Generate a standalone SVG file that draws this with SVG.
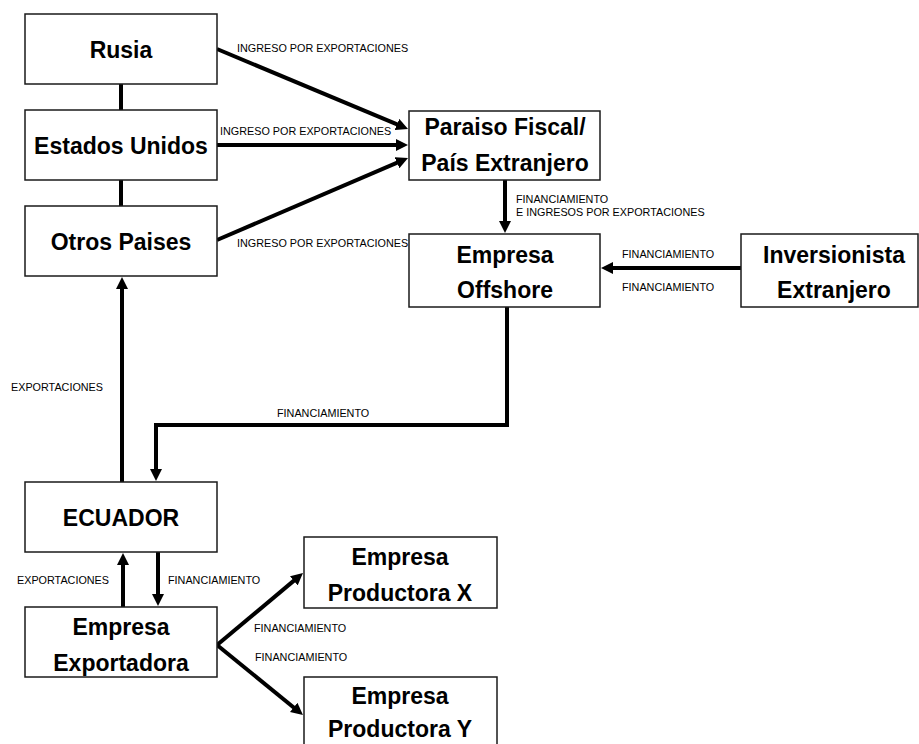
<svg xmlns="http://www.w3.org/2000/svg" width="919" height="744" viewBox="0 0 919 744">
  <style>
    .box { fill: #ffffff; stroke: #1a1a1a; stroke-width: 1.5; }
    .name { font-family: "Liberation Sans", Arial, sans-serif; font-weight: bold; font-size: 23px; fill: #000; text-anchor: middle; }
    .lbl { font-family: "Liberation Sans", Arial, sans-serif; font-size: 10.8px; fill: #000; }
    .wire { fill: none; stroke: #000; stroke-width: 4; }
    .arrow { marker-end: url(#head); }
  </style>
  <defs>
    <marker id="head" viewBox="0 0 10 10" refX="5" refY="5" markerWidth="12" markerHeight="12" markerUnits="userSpaceOnUse" orient="auto">
      <path d="M0,0 L10,5 L0,10 z" fill="#000"/>
    </marker>
  </defs>
  <rect width="919" height="744" fill="#ffffff"/>

  <g id="connectors">
    <line class="wire" x1="121" y1="84" x2="121" y2="110"/>
    <line class="wire" x1="121" y1="180" x2="121" y2="206"/>
    <line class="wire arrow" x1="217" y1="49" x2="402.5" y2="126.7"/>
    <line class="wire arrow" x1="217" y1="145" x2="402" y2="145"/>
    <line class="wire arrow" x1="217" y1="240" x2="402.5" y2="160.4"/>
    <line class="wire arrow" x1="505" y1="180" x2="505" y2="227"/>
    <line class="wire arrow" x1="741" y1="268" x2="607" y2="268"/>
    <polyline class="wire arrow" points="507,307 507,425 156,425 156,475"/>
    <line class="wire arrow" x1="122" y1="482" x2="122" y2="283"/>
    <line class="wire arrow" x1="123" y1="607" x2="123" y2="559"/>
    <line class="wire arrow" x1="158" y1="552" x2="158" y2="600"/>
    <line class="wire arrow" x1="217" y1="645" x2="298.4" y2="576.9"/>
    <line class="wire arrow" x1="217" y1="645" x2="298.3" y2="711.2"/>

    <text class="lbl" x="237" y="52">INGRESO POR EXPORTACIONES</text>
    <text class="lbl" x="220" y="135">INGRESO POR EXPORTACIONES</text>
    <text class="lbl" x="237" y="247">INGRESO POR EXPORTACIONES</text>
    <text class="lbl" x="516" y="203">FINANCIAMIENTO</text>
    <text class="lbl" x="516" y="216">E INGRESOS POR EXPORTACIONES</text>
    <text class="lbl" x="622" y="258">FINANCIAMIENTO</text>
    <text class="lbl" x="622" y="291">FINANCIAMIENTO</text>
    <text class="lbl" x="11" y="391">EXPORTACIONES</text>
    <text class="lbl" x="277" y="417">FINANCIAMIENTO</text>
    <text class="lbl" x="17" y="584">EXPORTACIONES</text>
    <text class="lbl" x="168" y="584">FINANCIAMIENTO</text>
    <text class="lbl" x="254" y="632">FINANCIAMIENTO</text>
    <text class="lbl" x="255" y="661">FINANCIAMIENTO</text>
  </g>

  <g id="rusia">
    <rect class="box" x="25" y="14" width="192" height="70"/>
    <text class="name" x="121" y="58">Rusia</text>
  </g>
  <g id="estados-unidos">
    <rect class="box" x="25" y="110" width="192" height="70"/>
    <text class="name" x="121" y="154">Estados Unidos</text>
  </g>
  <g id="otros-paises">
    <rect class="box" x="25" y="206" width="192" height="70"/>
    <text class="name" x="121" y="250">Otros Paises</text>
  </g>
  <g id="paraiso-fiscal">
    <rect class="box" x="409" y="111" width="191" height="69"/>
    <text class="name" x="505" y="135">Paraiso Fiscal/</text>
    <text class="name" x="505" y="171">País Extranjero</text>
  </g>
  <g id="empresa-offshore">
    <rect class="box" x="409" y="234" width="191" height="73"/>
    <text class="name" x="505" y="263">Empresa</text>
    <text class="name" x="505" y="298">Offshore</text>
  </g>
  <g id="inversionista">
    <rect class="box" x="741" y="234" width="177" height="73"/>
    <text class="name" x="834" y="263">Inversionista</text>
    <text class="name" x="834" y="298">Extranjero</text>
  </g>
  <g id="ecuador">
    <rect class="box" x="25" y="482" width="192" height="70"/>
    <text class="name" x="121" y="526">ECUADOR</text>
  </g>
  <g id="empresa-exportadora">
    <rect class="box" x="25" y="607" width="192" height="70"/>
    <text class="name" x="121" y="635">Empresa</text>
    <text class="name" x="121" y="671">Exportadora</text>
  </g>
  <g id="productora-x">
    <rect class="box" x="304" y="537" width="193" height="71"/>
    <text class="name" x="400" y="565">Empresa</text>
    <text class="name" x="400" y="601">Productora X</text>
  </g>
  <g id="productora-y">
    <rect class="box" x="304" y="677" width="193" height="74"/>
    <text class="name" x="400" y="704">Empresa</text>
    <text class="name" x="400" y="737">Productora Y</text>
  </g>
</svg>
